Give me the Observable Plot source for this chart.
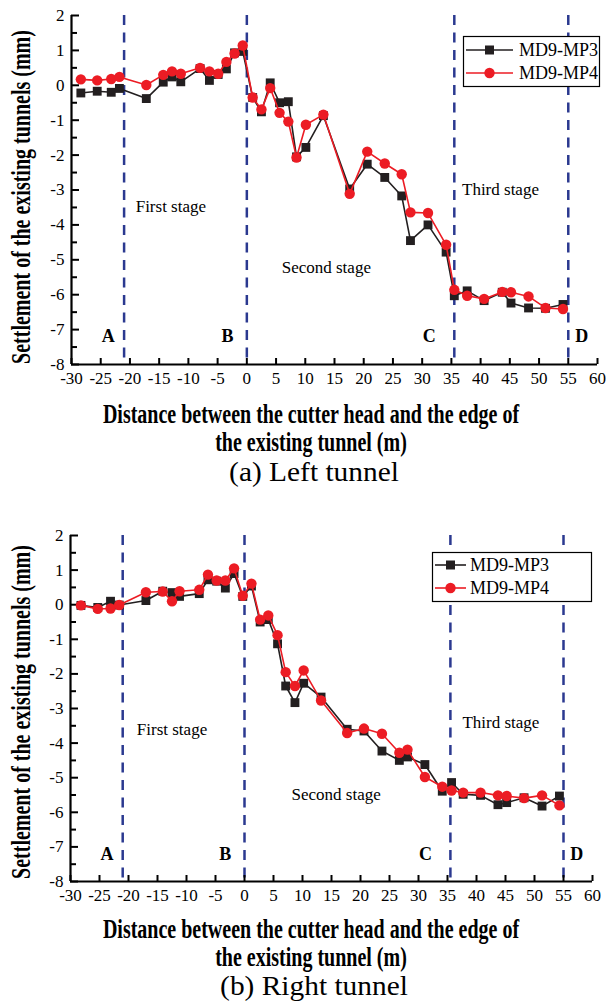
<!DOCTYPE html>
<html>
<head>
<meta charset="utf-8">
<script src="https://cdn.jsdelivr.net/npm/d3@7"></script>
<script src="https://cdn.jsdelivr.net/npm/@observablehq/plot@0.6"></script>
<style>
  html, body { margin: 0; padding: 0; background: #fff; }
  #wrap { position: relative; width: 612px; height: 1001px; overflow: hidden; font-family: 'Liberation Serif', 'Times New Roman', serif; }
  .chart { position: absolute; left: 0; }
  .ytitle { position: absolute; white-space: nowrap; font-weight: bold; font-size: 20px; line-height: 0.95; transform: translate(-50%, -50%) rotate(-90deg) scaleY(1.38); }
  .xtitle { position: absolute; white-space: nowrap; font-weight: bold; font-size: 20px; line-height: 0.95; transform: translate(-50%, -50%) scaleY(1.32); }
  .sub { position: absolute; white-space: nowrap; font-size: 28px; line-height: 1; transform: translate(-50%, -50%) scaleX(1.05); }
  .legend { position: absolute; }
</style>
</head>
<body>
<div id="wrap"></div>
<script>
// ---------- data ----------
const xTicks = [-30, -25, -20, -15, -10, -5, 0, 5, 10, 15, 20, 25, 30, 35, 40, 45, 50, 55, 60];
const yTicks = [-8, -7, -6, -5, -4, -3, -2, -1, 0, 1, 2];
const yMinorTicks = [-7.5, -6.5, -5.5, -4.5, -3.5, -2.5, -1.5, -0.5, 0.5, 1.5];
const stageBounds = [-21, 0, 35.5, 55];
const seriesNames = ["MD9-MP3", "MD9-MP4"];

// (a) Left tunnel
const leftX = [-28.4, -25.6, -23.2, -21.8, -17.2, -14.3, -12.8, -11.3, -8.0, -6.4, -4.9, -3.5, -2.1, -0.7, 1.0, 2.5, 4.0, 5.6, 7.1, 8.5, 10.1, 13.1, 17.6, 20.6, 23.6, 26.5, 28.0, 31.0, 34.1, 35.5, 37.7, 40.6, 43.7, 45.2, 48.2, 51.1, 54.1];
const leftMP3 = [-0.22, -0.17, -0.2, -0.09, -0.38, 0.09, 0.24, 0.1, 0.48, 0.14, 0.31, 0.47, 0.93, 0.97, -0.35, -0.76, 0.07, -0.5, -0.47, -2.05, -1.78, -0.87, -2.97, -2.26, -2.64, -3.17, -4.45, -4.0, -4.78, -6.03, -5.89, -6.17, -5.93, -6.24, -6.38, -6.39, -6.28];
const leftMP4 = [0.17, 0.14, 0.18, 0.24, 0.01, 0.3, 0.4, 0.33, 0.5, 0.4, 0.33, 0.67, 0.91, 1.14, -0.35, -0.69, -0.08, -0.79, -1.04, -2.07, -1.13, -0.84, -3.11, -1.9, -2.24, -2.55, -3.64, -3.66, -4.57, -5.86, -6.03, -6.12, -5.92, -5.93, -6.05, -6.38, -6.41];

// (b) Right tunnel
const rightX = [-28.2, -25.3, -23.1, -21.6, -17.0, -14.1, -12.5, -11.2, -7.8, -6.3, -4.8, -3.3, -1.8, -0.3, 1.2, 2.7, 4.1, 5.7, 7.1, 8.7, 10.2, 13.2, 17.7, 20.6, 23.7, 26.7, 28.1, 31.1, 34.1, 35.7, 37.7, 40.7, 43.7, 45.2, 48.2, 51.3, 54.3];
const rightMP3 = [-0.02, -0.08, 0.1, -0.01, 0.12, 0.39, 0.35, 0.24, 0.32, 0.72, 0.68, 0.48, 0.9, 0.24, 0.54, -0.5, -0.43, -1.13, -2.35, -2.83, -2.27, -2.67, -3.6, -3.65, -4.23, -4.5, -4.4, -4.62, -5.39, -5.14, -5.48, -5.51, -5.78, -5.72, -5.58, -5.82, -5.53];
const rightMP4 = [-0.02, -0.12, -0.11, -0.01, 0.36, 0.38, 0.1, 0.39, 0.43, 0.87, 0.7, 0.7, 1.05, 0.26, 0.61, -0.43, -0.31, -0.88, -1.95, -2.35, -1.9, -2.77, -3.71, -3.58, -3.73, -4.28, -4.19, -4.98, -5.26, -5.37, -5.43, -5.43, -5.51, -5.53, -5.59, -5.51, -5.8];

// annotations
const stageNames = ["First stage", "Second stage", "Third stage"];
const pointNames = ["A", "B", "C", "D"];
const leftStageX = [-13, 13.6, 43.4], leftStageY = [-3.47, -5.22, -2.99];
const rightStageX = [-12.5, 15.8, 44.2], rightStageY = [-3.6, -5.5, -3.4];
const pointX = [-23.7, -3.3, 31.2, 57.3], pointY = -7.2;

// ---------- styles ----------
const SERIF = "'Liberation Serif', 'Times New Roman', serif";
const BLACK = "#231f20", RED = "#ec1c24", BLUE = "#2b3990";

function chart({xs, mp3, mp4, stX, stY, height, marginLeft, marginRight, plotH}) {
  const data = xs.map((x, i) => ({x, a: mp3[i], b: mp4[i]}));
  const stages = stageNames.map((t, i) => ({t, x: stX[i], y: stY[i]}));
  const pts = pointNames.map((t, i) => ({t, x: pointX[i], y: pointY}));
  return Plot.plot({
    width: 612, height, marginLeft, marginRight, marginTop: 15, marginBottom: height - 15 - plotH,
    x: {domain: [-30, 60]},
    y: {domain: [-8, 2]},
    style: {fontFamily: SERIF, fontSize: "17px", color: "black", background: "transparent", overflow: "visible"},
    marks: [
      Plot.ruleX(stageBounds, {stroke: BLUE, strokeWidth: 2.5, strokeDasharray: "10,7.5"}),
      Plot.axisX(xTicks, {tickSize: -6, tickPadding: 13, tickFormat: d => String(d), fontSize: 17, label: null, strokeWidth: 2}),
      Plot.axisY(yTicks, {tickSize: -8, tickPadding: 15, tickFormat: d => String(d), fontSize: 17, label: null, strokeWidth: 2}),
      Plot.axisY(yMinorTicks, {tickSize: -6, tickFormat: () => "", label: null, strokeWidth: 2}),
      Plot.ruleX([-30], {stroke: "black", strokeWidth: 2.2}),
      Plot.ruleY([-8], {stroke: "black", strokeWidth: 2.2}),
      Plot.line(data, {x: "x", y: "a", stroke: BLACK, strokeWidth: 1.6}),
      Plot.dot(data, {x: "x", y: "a", symbol: "square", r: 5, fill: BLACK}),
      Plot.line(data, {x: "x", y: "b", stroke: RED, strokeWidth: 1.6}),
      Plot.dot(data, {x: "x", y: "b", symbol: "circle", r: 5.2, fill: RED}),
      Plot.text(stages, {x: "x", y: "y", text: "t", fontSize: 17, fill: "black"}),
      Plot.text(pts, {x: "x", y: "y", text: "t", fontSize: 18, fontWeight: "bold", fill: "black"})
    ]
  });
}

function legend(box, rowY, lineX0, lineX1, textX) {
  const w = box.w, h = box.h;
  const svg = d3.create("svg").attr("width", w + 2).attr("height", h + 2)
    .style("position", "absolute").style("left", (box.x - 1) + "px").style("top", (box.y - 1) + "px").style("overflow", "visible");
  svg.append("rect").attr("x", 1.5).attr("y", 1.5).attr("width", w - 1).attr("height", h - 1)
    .attr("fill", "white").attr("stroke", "black").attr("stroke-width", 1.2);
  const colors = [BLACK, RED];
  seriesNames.forEach((name, i) => {
    const y = rowY[i] - box.y + 1;
    svg.append("line").attr("x1", lineX0 - box.x + 1).attr("x2", lineX1 - box.x + 1).attr("y1", y).attr("y2", y)
      .attr("stroke", colors[i]).attr("stroke-width", 1.6);
    const mx = (lineX0 + lineX1) / 2 - box.x + 1;
    if (i === 0) svg.append("rect").attr("x", mx - 4.5).attr("y", y - 4.5).attr("width", 9).attr("height", 9).attr("fill", colors[i]);
    else svg.append("circle").attr("cx", mx).attr("cy", y).attr("r", 5.2).attr("fill", colors[i]);
    svg.append("text").attr("x", textX - box.x + 1).attr("y", y).attr("dy", "0.35em")
      .attr("font-family", SERIF).attr("font-size", 18).attr("fill", "black").text(name);
  });
  return svg.node();
}

const wrap = document.getElementById("wrap");
function place(node, top) { node.classList.add("chart"); node.style.top = top + "px"; wrap.appendChild(node); }
function addDiv(cls, text, x, y) { const d = document.createElement("div"); d.className = cls; d.textContent = text; d.style.left = x + "px"; d.style.top = y + "px"; wrap.appendChild(d); }

place(chart({xs: leftX, mp3: leftMP3, mp4: leftMP4, stX: leftStageX, stY: leftStageY, height: 390, marginLeft: 71, marginRight: 15, plotH: 349}), 0);
place(chart({xs: rightX, mp3: rightMP3, mp4: rightMP4, stX: rightStageX, stY: rightStageY, height: 390, marginLeft: 70, marginRight: 20, plotH: 346}), 520);

wrap.appendChild(legend({x: 463, y: 36, w: 137, h: 51}, [50, 73], 466, 513, 519));
wrap.appendChild(legend({x: 432, y: 552, w: 160, h: 50}, [565, 588], 435, 466, 470));

addDiv("ytitle", "Settlement of the existing tunnels (mm)", 21, 197);
addDiv("xtitle", "Distance between the cutter head and the edge of", 311, 414);
addDiv("xtitle", "the existing tunnel (m)", 311, 442);
addDiv("sub", "(a) Left tunnel", 314, 472);

addDiv("ytitle", "Settlement of the existing tunnels (mm)", 21, 712);
addDiv("xtitle", "Distance between the cutter head and the edge of", 311, 929);
addDiv("xtitle", "the existing tunnel (m)", 311, 957);
addDiv("sub", "(b) Right tunnel", 314, 986);
</script>
</body>
</html>
